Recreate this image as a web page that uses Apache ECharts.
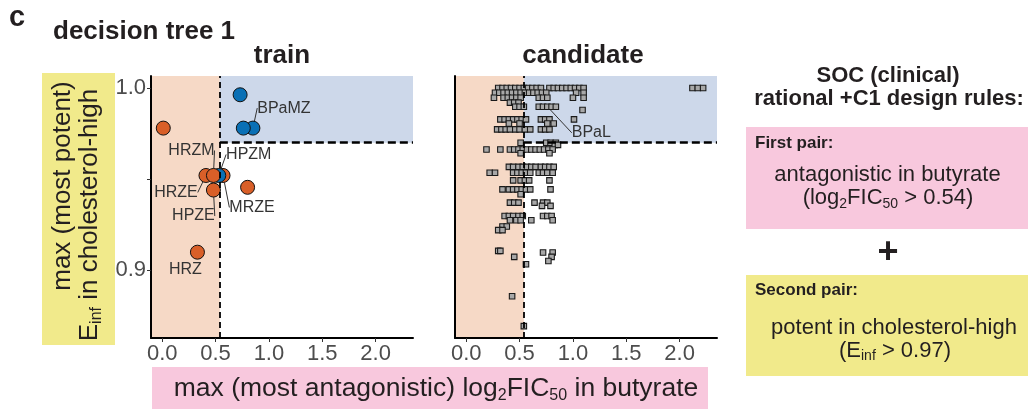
<!DOCTYPE html>
<html><head><meta charset="utf-8">
<script src="https://cdn.jsdelivr.net/npm/echarts@6/dist/echarts.min.js"></script>
<style>html,body{margin:0;padding:0;background:#fff}#c{width:1028px;height:410px}</style>
</head><body><div id="c"></div>
<script>
const FONT = '"Liberation Sans", Arial, Helvetica, sans-serif';

// design-rule thresholds
const X_THRESHOLD = 0.54;
const Y_THRESHOLD = 0.97;

// axis ranges and ticks
const X_MIN = -0.105, X_MAX = 2.35;
const Y_MIN = 0.8628, Y_MAX = 1.0066;
const xTicks = [0, 0.5, 1.0, 1.5, 2.0];
const yTicks = [0.9, 0.95, 1.0];
const yTickLabels = [0.9, 1.0];

// train combinations
const trainX     = [0.73, 0.85, 0.76, 0.01, 0.57, 0.53, 0.41, 0.48, 0.48, 0.80, 0.33];
const trainY     = [0.9963, 0.978, 0.978, 0.978, 0.952, 0.952, 0.952, 0.952, 0.944, 0.9455, 0.9099];
const trainClass = ['blue','blue','blue','orange','orange','blue','orange','orange','orange','orange','orange'];
const trainNames = ['', 'BPaMZ', '', '', 'MRZE', 'HPZM', 'HRZE', 'HRZM', 'HPZE', '', 'HRZ'];

// candidate combinations: Einf levels and log2FIC50 values at each level
const candLevels = [1.000, 0.9974, 0.9947, 0.992, 0.9897, 0.9879, 0.9828, 0.9805, 0.9773, 0.970,
  0.9688, 0.9663, 0.9642, 0.9567, 0.9535, 0.9493, 0.9444, 0.9417, 0.9371, 0.9353,
  0.9298, 0.9274, 0.924, 0.922, 0.9106, 0.9097, 0.9073, 0.9051, 0.9033, 0.8857, 0.8693];
const candRowX = [
  [0.30,0.34,0.38,0.42,0.46,0.50,0.54,0.58,0.62,0.66,0.70,0.78,0.82,0.86,0.90,0.94,0.98,1.02,1.06,1.10,2.12,2.17,2.22],
  [0.27,0.31,0.35,0.39,0.43,0.47,0.51,0.55,0.59,0.63,0.67,0.71,0.75,1.03,1.10],
  [0.26,0.35,0.39,0.43,0.47,0.51,0.68,0.72,0.76,1.00,1.10],
  [0.41,0.45,0.49],
  [0.46,0.50,0.54,0.68,0.72,0.76,0.80,0.84],
  [1.09],
  [0.32,0.36,0.40,0.44,0.48,0.52,0.56,0.70,0.74,0.78,1.01],
  [0.40,0.50,0.76,0.82],
  [0.29,0.33,0.37,0.41,0.46,0.50,0.55,0.60,0.70,0.74,0.78],
  [0.51,0.75,0.79,0.84],
  [0.83,0.86],
  [0.19,0.32,0.41,0.45,0.49,0.53,0.57,0.61,0.65,0.69,0.73,0.77,0.81],
  [0.51,0.78],
  [0.40,0.44,0.49,0.53,0.57,0.61,0.65,0.70,0.74,0.78,0.82],
  [0.22,0.27,0.44,0.48,0.52,0.56,0.60,0.68,0.72,0.76,0.81],
  [0.44,0.51,0.55,0.59,0.78],
  [0.34,0.40,0.44,0.48,0.52,0.56,0.60,0.79],
  [0.51],
  [0.41,0.45,0.49,0.64,0.72,0.76],
  [0.71,0.79],
  [0.36,0.40,0.44,0.49,0.53,0.72,0.76,0.80],
  [0.41,0.47,0.51,0.61,0.81],
  [0.34,0.38],
  [0.30,0.34],
  [0.30,0.32],
  [0.72,0.81],
  [0.45,0.80],
  [0.77],
  [0.56],
  [0.43],
  [0.54]
];
const candLabelName = 'BPaL';
const candLabelPoint = [0.76, 0.9897];

// label placement offsets (px)
const labelOffsets = {BPaMZ:[31,-20], HRZM:[-22,-25], HPZM:[30,-21], HRZE:[-30,17], HPZE:[-20,26], MRZE:[29,32], HRZ:[-12,17], BPaL:[44,26]};
const noLine = {HRZ: true};

const COLORS = {orange:'#d95f28', blue:'#0a70b5', peach:'#f6d9c6', region:'#cdd8ea', pink:'#f8c8dd', yellow:'#f1ea8b', text:'#231f20'};

const trainData = trainX.map((x, i) => {
  const nm = trainNames[i];
  return {value:[x, trainY[i]], name:nm, itemStyle:{color:COLORS[trainClass[i]]},
    label:{show:!!nm}, labelLine:{show:!!nm && !noLine[nm]}};
});
const candData = [];
candLevels.forEach((y, r) => candRowX[r].forEach(x => {
  const lab = (x === candLabelPoint[0] && y === candLabelPoint[1]);
  candData.push({value:[x, y], name: lab ? candLabelName : '', label:{show:lab}, labelLine:{show:lab}});
}));

function xAxisCfg(gi) {
  return {type:'value', gridIndex:gi, min:X_MIN, max:X_MAX, z:5,
    axisLine:{show:true, onZero:false, lineStyle:{color:'#000', width:2}},
    axisTick:{show:true, customValues:xTicks, length:4, lineStyle:{color:'#333', width:1}},
    axisLabel:{customValues:xTicks, formatter:v => v.toFixed(1), fontSize:22, color:'#4d4d4d', fontFamily:FONT, margin:5},
    splitLine:{show:false}};
}
function yAxisCfg(gi, showLabels) {
  return {type:'value', gridIndex:gi, min:Y_MIN, max:Y_MAX, z:5,
    axisLine:{show:true, onZero:false, lineStyle:{color:'#000', width:2}},
    axisTick:{show:showLabels, customValues:yTicks, length:4, lineStyle:{color:'#333', width:1}},
    axisLabel:{show:showLabels, customValues:yTickLabels, formatter:v => v.toFixed(1), fontSize:22, color:'#4d4d4d', fontFamily:FONT, margin:5},
    splitLine:{show:false}};
}
function bgSeries(gi) {
  return {type:'scatter', xAxisIndex:gi, yAxisIndex:gi, data:[], z:1, silent:true,
    markArea:{silent:true, data:[
      [{xAxis:X_MIN, itemStyle:{color:COLORS.peach}}, {xAxis:X_THRESHOLD}],
      [{xAxis:X_THRESHOLD, yAxis:Y_THRESHOLD, itemStyle:{color:COLORS.region}}, {xAxis:X_MAX, yAxis:Y_MAX}]
    ]},
    markLine:{silent:true, symbol:['none','none'], label:{show:false}, animation:false, data:[
      {xAxis:X_THRESHOLD, lineStyle:{color:'#000', width:1.8, type:[6,4]}},
      [{coord:[X_THRESHOLD, Y_THRESHOLD], lineStyle:{color:'#000', width:2.6, type:[8,4]}}, {coord:[X_MAX, Y_THRESHOLD]}]
    ]}};
}
function layoutFn(data) {
  return function (p) {
    const nm = data[p.dataIndex] && data[p.dataIndex].name;
    const o = labelOffsets[nm];
    return o ? {dx:o[0], dy:o[1]} : {};
  };
}

function txt(text, x, y, size, weight, extra) {
  return Object.assign({type:'text', x:x, y:y, silent:true, z:10,
    style:Object.assign({text:text, x:0, y:0, fontSize:size, fontWeight:weight||'normal', fontFamily:FONT, fill:COLORS.text,
      align:'center', verticalAlign:'middle', textAlign:'center', textVerticalAlign:'middle'}, (extra && extra.style) || {})},
    extra && extra.el || {});
}
// subscript: main line height LH, subscript box height h placed at the bottom of the line
const subRich = (size, h) => ({sub:{fontSize:size, verticalAlign:'bottom', lineHeight:h, fontFamily:FONT, fill:COLORS.text}});

const option = {
  animation:false,
  backgroundColor:'#fff',
  grid:[{left:151, top:76, width:262, height:262}, {left:455, top:76, width:262, height:262}],
  xAxis:[xAxisCfg(0), xAxisCfg(1)],
  yAxis:[yAxisCfg(0, true), yAxisCfg(1, false)],
  series:[
    bgSeries(0), bgSeries(1),
    {type:'scatter', xAxisIndex:0, yAxisIndex:0, z:3, symbol:'circle', symbolSize:14, data:trainData,
      itemStyle:{borderColor:'#111', borderWidth:1, opacity:1},
      label:{show:false, position:'inside', formatter:'{b}', fontSize:16, color:'#333', fontFamily:FONT},
      labelLine:{show:true, lineStyle:{color:'#333', width:1}},
      labelLayout:layoutFn(trainData)},
    {type:'scatter', xAxisIndex:1, yAxisIndex:1, z:3, symbol:'rect', symbolSize:5.5, data:candData,
      itemStyle:{color:'#a8a8a8', borderColor:'#1a1a1a', borderWidth:1.1, opacity:1},
      label:{show:false, position:'inside', formatter:'{b}', fontSize:16, color:'#333', fontFamily:FONT},
      labelLine:{show:true, lineStyle:{color:'#333', width:1}},
      labelLayout:layoutFn(candData)}
  ],
  graphic:[
    {type:'rect', shape:{x:42, y:73, width:73, height:272}, style:{fill:COLORS.yellow}, z:0, silent:true},
    {type:'rect', shape:{x:152, y:367, width:556, height:42}, style:{fill:COLORS.pink}, z:0, silent:true},
    {type:'rect', shape:{x:746, y:127, width:282, height:102}, style:{fill:COLORS.pink}, z:0, silent:true},
    {type:'rect', shape:{x:746, y:275, width:282, height:101}, style:{fill:COLORS.yellow}, z:0, silent:true},
    txt('c', 17, 18, 29, 'bold'),
    txt('decision tree 1', 53, 31.5, 26, 'bold', {style:{align:'left', textAlign:'left'}}),
    txt('train', 282, 56, 26, 'bold'),
    txt('candidate', 583, 56, 26, 'bold'),
    txt('max (most potent)', 62.5, 186, 26, 'normal', {el:{rotation:Math.PI/2}}),
    txt('E{sub|inf} in cholesterol-high', 90, 215, 26, 'normal', {el:{rotation:Math.PI/2}, style:{lineHeight:30, rich:subRich(16, 13)}}),
    txt('max (most antagonistic) log{sub|2}FIC{sub|50} in butyrate', 436, 389, 26.5, 'normal', {style:{lineHeight:30, rich:subRich(16, 13)}}),
    txt('SOC (clinical)', 888, 76, 22, 'bold'),
    txt('rational +C1 design rules:', 889, 98.5, 22, 'bold'),
    txt('First pair:', 755, 143, 17, 'bold', {style:{align:'left', textAlign:'left'}}),
    txt('antagonistic in butyrate', 887.5, 175, 22),
    txt('(log{sub|2}FIC{sub|50} > 0.54)', 888, 198, 22, 'normal', {style:{lineHeight:26, rich:subRich(14, 12)}}),
    txt('+', 888, 253, 36, 'bold'),
    txt('Second pair:', 755, 290.5, 17, 'bold', {style:{align:'left', textAlign:'left'}}),
    txt('potent in cholesterol-high', 894, 327.5, 22),
    txt('(E{sub|inf} > 0.97)', 895, 350.5, 22, 'normal', {style:{lineHeight:26, rich:subRich(14, 12)}})
  ]
};
const chart = echarts.init(document.getElementById('c'), null, {renderer:'canvas'});
chart.setOption(option);
</script>
</body></html>
